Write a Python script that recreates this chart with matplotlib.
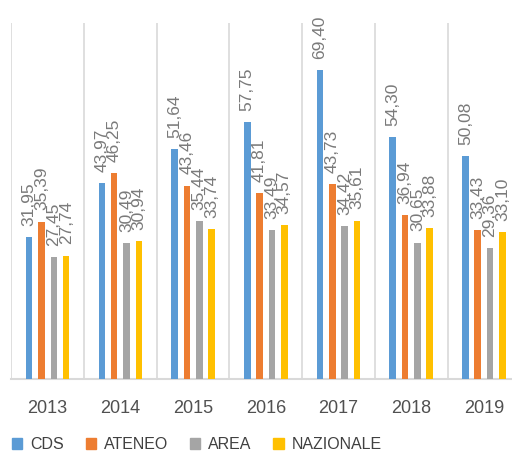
import matplotlib.pyplot as plt
import numpy as np
from matplotlib.patches import Patch

years = ["2013", "2014", "2015", "2016", "2017", "2018", "2019"]
cds = [31.95, 43.97, 51.64, 57.75, 69.40, 54.30, 50.08]
ateneo = [35.39, 46.25, 43.46, 41.81, 43.73, 36.94, 33.43]
area = [27.45, 30.49, 35.44, 33.49, 34.42, 30.65, 29.36]
nazionale = [27.74, 30.94, 33.74, 34.57, 35.61, 33.88, 33.10]

series = [
    ("CDS", cds, "#5B9BD5"),
    ("ATENEO", ateneo, "#ED7D31"),
    ("AREA", area, "#A5A5A5"),
    ("NAZIONALE", nazionale, "#FFC000"),
]

plt.rcParams["font.family"] = ["Liberation Sans", "DejaVu Sans"]

W, H = 512, 454
fig = plt.figure(figsize=(W / 100, H / 100), dpi=100)
# axes spill past the right edge, like the cropped original
ax = fig.add_axes((11.3 / W, (H - 379) / H, 509 / W, 356 / H))

x = np.arange(len(years))
width = 0.09
step = 0.17
for i, (name, vals, color) in enumerate(series):
    pos = x + (i - 1.5) * step
    bars = ax.bar(pos, vals, width, color=color, zorder=3)
    for b, v in zip(bars, vals):
        ax.annotate(
            f"{v:.2f}".replace(".", ","),
            (b.get_x() + b.get_width() / 2, b.get_height()),
            xytext=(0, 8),
            textcoords="offset points",
            rotation=90,
            ha="center",
            va="bottom",
            fontsize=12.5,
            color="#7A7A7A",
            annotation_clip=False,
        )

ax.set_xlim(-0.5, len(years) - 0.5)
ax.set_ylim(0, 80)
ax.set_yticks([])
ax.set_xticks(x)
ax.set_xticklabels(years, fontsize=13, color="#505050")
ax.set_xticks(np.arange(len(years) + 1) - 0.5, minor=True)
ax.tick_params(axis="x", which="both", length=0, pad=15)
ax.grid(axis="x", which="minor", color="#D9D9D9", linewidth=1.2, zorder=0)

for side in ["left", "right", "top"]:
    ax.spines[side].set_visible(False)
ax.spines["bottom"].set_color("#D9D9D9")
ax.spines["bottom"].set_linewidth(1.5)

handles = [Patch(color=c, label=n) for n, _, c in series]
fig.legend(
    handles=handles,
    loc="lower left",
    bbox_to_anchor=(0.014, -0.006),
    ncol=4,
    frameon=False,
    fontsize=11.5,
    handlelength=0.65,
    handleheight=0.65,
    handletextpad=0.5,
    columnspacing=1.35,
    borderaxespad=0.1,
    borderpad=0.2,
    labelcolor="#404040",
)

fig.savefig("out.png", dpi=100)
